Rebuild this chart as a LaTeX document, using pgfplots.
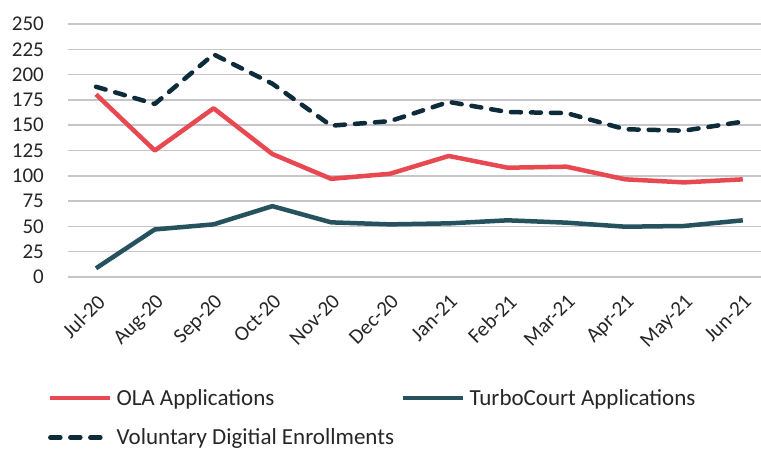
\documentclass[border=0pt]{standalone}
\usepackage{fontspec}
\setmainfont{Carlito}
\usepackage{pgfplots}
\pgfplotsset{compat=1.18}

\definecolor{olared}{HTML}{E84850}
\definecolor{turbo}{HTML}{26525E}
\definecolor{vde}{HTML}{0E2B3A}
\definecolor{gridgray}{HTML}{C6C6CA}
\definecolor{txt}{HTML}{262626}

\pgfplotstableread{
idx ola turbo vde
0  180.5  8.6 188
1  125   47   171
2  166.7 52   220
3  121.5 70   191
4   97   54   149.5
5  102   52   154
6  119.6 53   173
7  108   56   163
8  109   53.7 162
9   96.5 49.7 146
10  93.5 50.4 144.6
11  96.5 56   153.5
}\datatable

\begin{document}
\begin{tikzpicture}
\useasboundingbox (0,0) rectangle (761pt,450pt);
\begin{axis}[
  at={(68pt,173pt)}, anchor=south west,
  scale only axis, width=693pt, height=253pt,
  xmin=-0.476, xmax=11.31, ymin=0, ymax=250,
  ytick={0,25,...,250},
  xtick={0,...,11},
  xticklabels={Jul-20,Aug-20,Sep-20,Oct-20,Nov-20,Dec-20,Jan-21,Feb-21,Mar-21,Apr-21,May-21,Jun-21},
  axis line style={draw=none},
  major tick length=0pt,
  ymajorgrids, grid style={gridgray, line width=1.5pt},
  /pgf/number format/assume math mode=true,
  ticklabel style={font=\fontsize{21}{25}\selectfont, text=txt},
  yticklabel style={inner sep=0pt, xshift=-24pt},
  xticklabel style={rotate=45, anchor=north east, inner sep=0pt},
  xticklabel shift=16pt,
  legend columns=2,
  legend cell align=left,
  legend style={draw=none, fill=none, inner sep=0pt,
    at={(axis description cs:-0.029,-0.435)}, anchor=north west,
    font=\fontsize{23}{27}\selectfont, text=txt,
    nodes={inner sep=2pt},
    row sep=18pt, column sep=0pt},
  legend image code/.code={\draw[#1] (0pt,0pt) -- (60pt,0pt);},
  /tikz/every odd column/.append style={column sep=2pt},
  /tikz/every even column/.append style={column sep=5pt},
]
\addplot[olared, line width=4.5pt, line join=round] table[x=idx, y=ola] {\datatable};
\addlegendentry{OLA Applications}
\addplot[turbo, line width=4.5pt, line join=round] table[x=idx, y=turbo] {\datatable};
\addlegendentry{TurboCourt Applications}
\addplot[vde, line width=4.5pt, line cap=round, line join=round, dash pattern=on 10pt off 10pt] table[x=idx, y=vde] {\datatable};
\addlegendentry{Voluntary Digitial Enrollments}
\end{axis}
\end{tikzpicture}
\end{document}
